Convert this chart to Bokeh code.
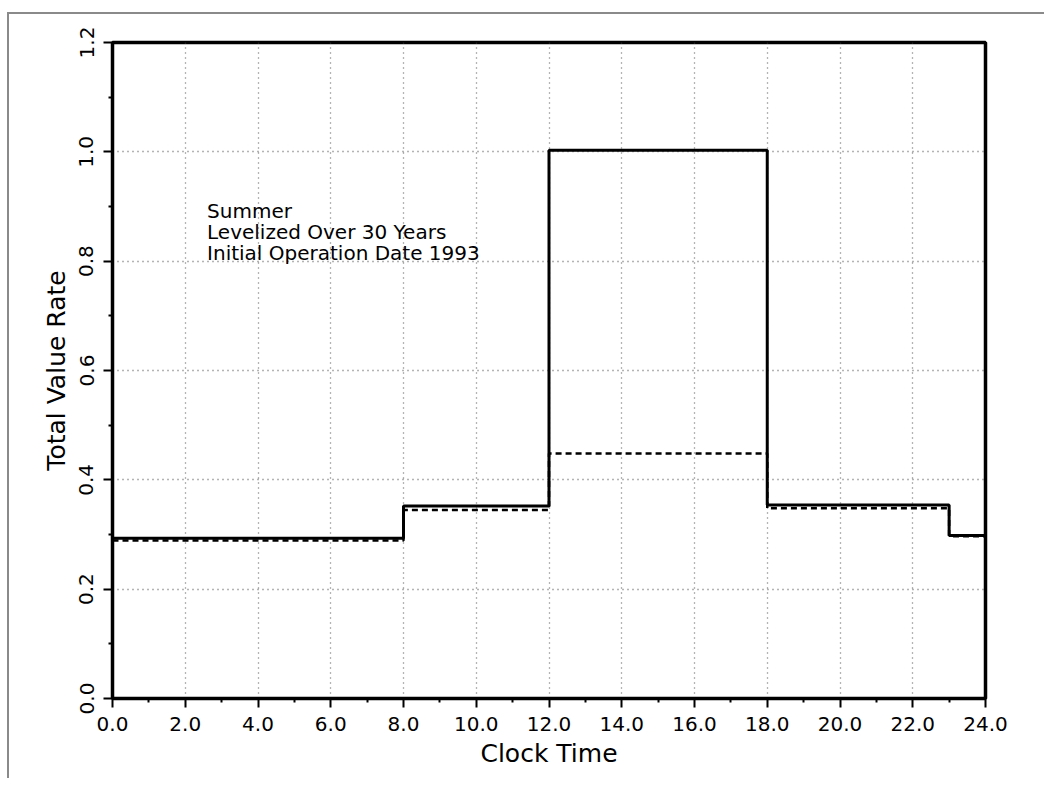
from bokeh.plotting import figure
from bokeh.models import Range1d, FixedTicker, PrintfTickFormatter, ColumnDataSource
from bokeh.core.properties import value
from bokeh.embed import file_html
from bokeh.resources import INLINE

# Data
step_x = [0, 8, 12, 18, 23, 24]
solid_y = [0.293, 0.352, 1.003, 0.354, 0.298, 0.298]
dashed_y = [0.289, 0.345, 0.448, 0.348, 0.297, 0.297]
x_ticks = [0, 2, 4, 6, 8, 10, 12, 14, 16, 18, 20, 22, 24]
x_minor = [1, 3, 5, 7, 9, 11, 13, 15, 17, 19, 21, 23]
y_ticks = [0.0, 0.2, 0.4, 0.6, 0.8, 1.0, 1.2]
y_minor = [0.1, 0.3, 0.5, 0.7, 0.9, 1.1]
note_lines = ["Summer", "Levelized Over 30 Years", "Initial Operation Date 1993"]
note_x = [2.6, 2.6, 2.6]
note_y = [0.892, 0.8535, 0.815]

FONT = "DejaVu Sans"

p = figure(width=1036, height=770, output_backend="svg", toolbar_location=None,
           x_range=Range1d(0, 24), y_range=Range1d(0, 1.2),
           min_border_left=103, min_border_top=28, min_border_right=59, min_border_bottom=80,
           frame_width=873, frame_height=656)
p.styles = {"border-top": "2px solid #8a8a8a", "border-left": "2px solid #8a8a8a",
            "margin-top": "12px", "margin-left": "7px"}

p.outline_line_color = "black"
p.outline_line_width = 3.5
p.outline_line_alpha = 1.0
p.background_fill_color = "white"
p.border_fill_color = "white"

# axes
p.xaxis.ticker = FixedTicker(ticks=x_ticks, minor_ticks=x_minor)
p.yaxis.ticker = FixedTicker(ticks=y_ticks, minor_ticks=y_minor)
p.xaxis.formatter = PrintfTickFormatter(format="%.1f")
p.yaxis.formatter = PrintfTickFormatter(format="%.1f")
for ax in (p.xaxis, p.yaxis):
    ax.axis_line_color = "black"
    ax.axis_line_width = 3
    ax.major_tick_line_color = "black"
    ax.major_tick_line_width = 2
    ax.minor_tick_line_color = "black"
    ax.minor_tick_line_width = 2
    ax.major_tick_out = 9
    ax.major_tick_in = 0
    ax.minor_tick_out = 4
    ax.minor_tick_in = 0
    ax.major_label_text_font = FONT
    ax.major_label_text_font_size = "20px"
    ax.major_label_text_color = "black"
    ax.axis_label_text_font = FONT
    ax.axis_label_text_font_size = "25px"
    ax.axis_label_text_font_style = "normal"
    ax.axis_label_text_color = "black"

p.xaxis.axis_label = "Clock Time"
p.yaxis.axis_label = "Total Value Rate"
p.xaxis.major_label_standoff = 9
p.xaxis.axis_label_standoff = 5
p.yaxis.major_label_orientation = "vertical"
p.yaxis.major_label_standoff = 10
p.yaxis.axis_label_standoff = 6

# grid
for g in (p.xgrid, p.ygrid):
    g.grid_line_color = "#444444"
    g.grid_line_width = 1.3
    g.grid_line_dash = "1 4"
    g.grid_line_alpha = 0.8

src = ColumnDataSource(dict(x=step_x, solid=solid_y, dashed=dashed_y))
p.step("x", "dashed", source=src, mode="after", line_color="black", line_width=2.5, line_dash="6 4")
p.step("x", "solid", source=src, mode="after", line_color="black", line_width=3)

p.text(x=note_x, y=note_y, text=note_lines, text_font=value(FONT), text_font_size="20px",
       text_color="black", text_baseline="middle", text_align="left")

open("out.html", "w").write(file_html(p, INLINE))
